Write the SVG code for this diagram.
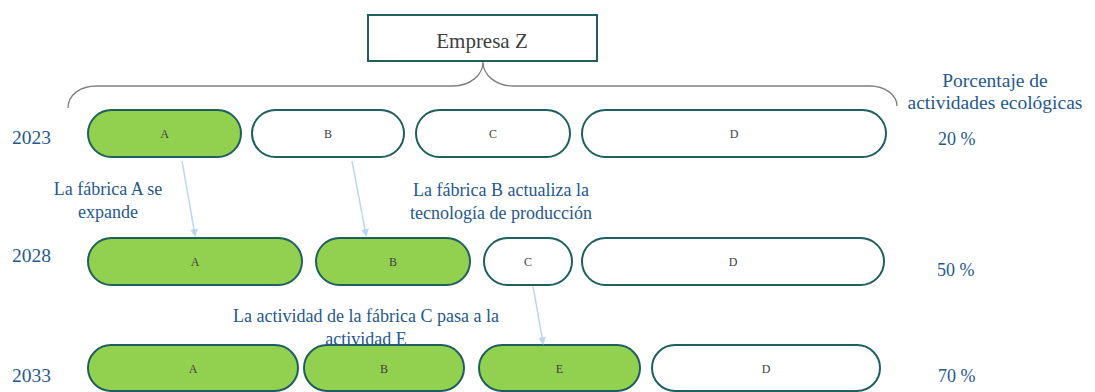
<svg xmlns="http://www.w3.org/2000/svg" width="1095" height="392" viewBox="0 0 1095 392">
<style>
.pill{stroke:#1f5f5f;stroke-width:2}
.g{fill:#92d050}
.w{fill:#ffffff}
text{font-family:"Liberation Serif","Tinos","Times New Roman","DejaVu Serif",serif}
.lt{font-size:12px;fill:#404040;text-anchor:middle}
.bl{font-size:18px;fill:#24588f}
.hd{font-size:19.5px}
.c{text-anchor:middle}
.yr{font-size:19.5px;fill:#24588f}
.conn{stroke:#bdd7ee;stroke-width:1.5;fill:none}
</style>
<defs>
<marker id="ah" markerWidth="8" markerHeight="8" refX="6" refY="4" orient="auto" markerUnits="userSpaceOnUse">
<path d="M0,0 L8,4 L0,8 Z" fill="#bdd7ee"/>
</marker>
</defs>
<rect width="1095" height="392" fill="#ffffff"/>
<g id="empresa">
<rect x="368" y="15" width="229" height="46" fill="#ffffff" stroke="#1f5f5f" stroke-width="2"/>
<text x="482" y="48" font-size="21" fill="#404040" text-anchor="middle">Empresa Z</text>
</g>
<g id="brace">
<path d="M68,108 C68,95 80,86 97,86 L453,86 C470,86 483,75 483,62 C483,75 496,86 513,86 L870,86 C885,86 897,95 897,106" fill="none" stroke="#7f7f7f" stroke-width="1.3"/>
</g>
<g id="header">
<text class="bl hd c" x="995" y="87">Porcentaje de</text>
<text class="bl hd c" x="995" y="109">actividades ecológicas</text>
</g>
<g id="row2023">
<text class="yr" x="12" y="144">2023</text>
<g id="n2023A"><rect class="pill g" x="88" y="110" width="153" height="47" rx="23.5"/><text class="lt" x="164.5" y="138">A</text></g>
<g id="n2023B"><rect class="pill w" x="252" y="110" width="152" height="47" rx="23.5"/><text class="lt" x="328" y="138">B</text></g>
<g id="n2023C"><rect class="pill w" x="416" y="110" width="154" height="47" rx="23.5"/><text class="lt" x="493" y="138">C</text></g>
<g id="n2023D"><rect class="pill w" x="582" y="110" width="304" height="47" rx="23.5"/><text class="lt" x="734" y="138">D</text></g>
<text class="bl" x="938" y="145">20 %</text>
</g>
<g id="row2028">
<text class="yr" x="12" y="262">2028</text>
<g id="n2028A"><rect class="pill g" x="88" y="238" width="214" height="47" rx="23.5"/><text class="lt" x="195" y="266">A</text></g>
<g id="n2028B"><rect class="pill g" x="316" y="238" width="154" height="47" rx="23.5"/><text class="lt" x="393" y="266">B</text></g>
<g id="n2028C"><rect class="pill w" x="484" y="238" width="88" height="47" rx="23.5"/><text class="lt" x="528" y="266">C</text></g>
<g id="n2028D"><rect class="pill w" x="582" y="238" width="302" height="47" rx="23.5"/><text class="lt" x="733" y="266">D</text></g>
<text class="bl" x="937" y="276">50 %</text>
</g>
<g id="row2033">
<text class="yr" x="12" y="382">2033</text>
<g id="n2033A"><rect class="pill g" x="88" y="345" width="210" height="46" rx="23"/><text class="lt" x="193" y="373">A</text></g>
<g id="n2033B"><rect class="pill g" x="304" y="345" width="160" height="46" rx="23"/><text class="lt" x="384" y="373">B</text></g>
<g id="n2033E"><rect class="pill g" x="479" y="345" width="161" height="46" rx="23"/><text class="lt" x="559.5" y="373">E</text></g>
<g id="n2033D"><rect class="pill w" x="652" y="345" width="228" height="46" rx="23"/><text class="lt" x="766" y="373">D</text></g>
<text class="bl" x="938" y="382">70 %</text>
</g>
<g id="labels">
<text class="bl c" x="108" y="195">La fábrica A se</text>
<text class="bl c" x="108" y="218">expande</text>
<text class="bl c" x="501" y="196">La fábrica B actualiza la</text>
<text class="bl c" x="501" y="219">tecnología de producción</text>
<text class="bl c" x="366" y="322">La actividad de la fábrica C pasa a la</text>
<text class="bl c" x="366" y="345">actividad E</text>
</g>
<g id="connectors">
<line class="conn" x1="182" y1="161" x2="195" y2="235" marker-end="url(#ah)"/>
<line class="conn" x1="352" y1="161" x2="366" y2="235" marker-end="url(#ah)"/>
<line class="conn" x1="533" y1="286" x2="543" y2="343" marker-end="url(#ah)"/>
</g>
</svg>
